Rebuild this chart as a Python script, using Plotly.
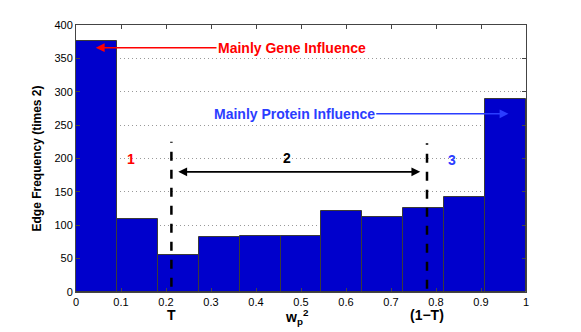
import plotly.graph_objects as go

# histogram of w_p^2 (11 equal bins on [0, 1])
bin_centers = [0.0455, 0.1364, 0.2273, 0.3182, 0.4091, 0.5, 0.5909, 0.6818, 0.7727, 0.8636, 0.9545]
bin_width = 1 / 11
edge_freq = [376, 110, 56, 83, 84, 84, 121, 112, 126, 142, 289]

x_ticks = [0, 0.1, 0.2, 0.3, 0.4, 0.5, 0.6, 0.7, 0.8, 0.9, 1]
x_ticktext = ["0", "0.1", "0.2", "0.3", "0.4", "0.5", "0.6", "0.7", "0.8", "0.9", "1"]
y_ticks = [0, 50, 100, 150, 200, 250, 300, 350, 400]

T = 0.212
ONE_MINUS_T = 0.78

RED = "#ff0000"
BLUE = "#2b3dff"
BAR = "#0000cc"
FONT = "Liberation Sans, Arial, sans-serif"

fig = go.Figure()

fig.add_trace(go.Bar(
    x=bin_centers,
    y=edge_freq,
    width=[bin_width] * len(bin_centers),
    marker=dict(color=BAR, line=dict(color="#3a3a3a", width=1)),
    showlegend=False,
))

# dashed threshold lines
for xv, ytop, ybot in [(T, 225, 8), (ONE_MINUS_T, 223, 5)]:
    fig.add_shape(type="line", x0=xv, x1=xv, y0=ybot, y1=ytop,
                  xref="x", yref="y",
                  line=dict(color="black", width=2.5, dash="dash"))

annotations = []

# double arrow between T and 1-T
annotations.append(dict(
    x=0.765, y=180, ax=0.224, ay=180, xref="x", yref="y", axref="x", ayref="y",
    text="", showarrow=True, arrowside="end+start", arrowhead=2,
    arrowsize=1.1, arrowwidth=1.6, arrowcolor="black",
))

# region numbers
for xv, yv, txt, col in [(0.122, 199, "1", RED), (0.468, 201, "2", "black"), (0.835, 198, "3", BLUE)]:
    annotations.append(dict(
        x=xv, y=yv, xref="x", yref="y", showarrow=False,
        text=f"<b>{txt}</b>", font=dict(color=col, size=14, family=FONT),
    ))

# labelled arrows
annotations.append(dict(
    x=0.044, y=366, ax=0.48, ay=366, xref="x", yref="y", axref="x", ayref="y",
    text="<b>Mainly Gene Influence</b>", font=dict(color=RED, size=14, family=FONT),
    showarrow=True, arrowhead=2, arrowsize=1.1, arrowwidth=1.6, arrowcolor=RED,
    standoff=0, startstandoff=0,
))
annotations.append(dict(
    x=0.961, y=267, ax=0.485, ay=267, xref="x", yref="y", axref="x", ayref="y",
    text="<b>Mainly Protein Influence</b>", font=dict(color=BLUE, size=14, family=FONT),
    showarrow=True, arrowhead=2, arrowsize=1.1, arrowwidth=1.6, arrowcolor=BLUE,
    standoff=0, startstandoff=0,
))

# labels under the x axis
for xv, txt in [(T, "<b>T</b>"), (0.49, "<b>w<sub>p</sub><sup>2</sup></b>"), (ONE_MINUS_T, "<b>(1\u2212T)</b>")]:
    annotations.append(dict(
        x=xv, y=-0.05, xref="x", yref="paper", yanchor="top",
        text=txt, showarrow=False, font=dict(color="black", size=14, family=FONT),
    ))

fig.update_layout(
    width=581,
    height=332,
    margin=dict(l=76, r=55, t=25, b=40),
    plot_bgcolor="white",
    paper_bgcolor="white",
    font=dict(family=FONT, size=11, color="black"),
    bargap=0,
    annotations=annotations,
    xaxis=dict(
        range=[0, 1],
        tickvals=x_ticks,
        ticktext=x_ticktext,
        ticks="inside",
        ticklen=4,
        tickcolor="#444",
        showline=True,
        linecolor="#444",
        linewidth=1,
        mirror="ticks",
        showgrid=False,
        zeroline=False,
        tickfont=dict(size=11),
    ),
    yaxis=dict(
        range=[0, 400],
        tickvals=y_ticks,
        ticks="inside",
        ticklen=4,
        tickcolor="#444",
        showline=True,
        linecolor="#444",
        linewidth=1,
        mirror="ticks",
        showgrid=True,
        gridcolor="#999999",
        griddash="1px,3px",
        gridwidth=1,
        zeroline=False,
        tickfont=dict(size=11),
        title=dict(text="<b>Edge Frequency (times 2)</b>", font=dict(size=12), standoff=10),
    ),
)

fig.write_html("out.html", config={"displayModeBar": False},
               post_script="document.body.style.margin='0';")
